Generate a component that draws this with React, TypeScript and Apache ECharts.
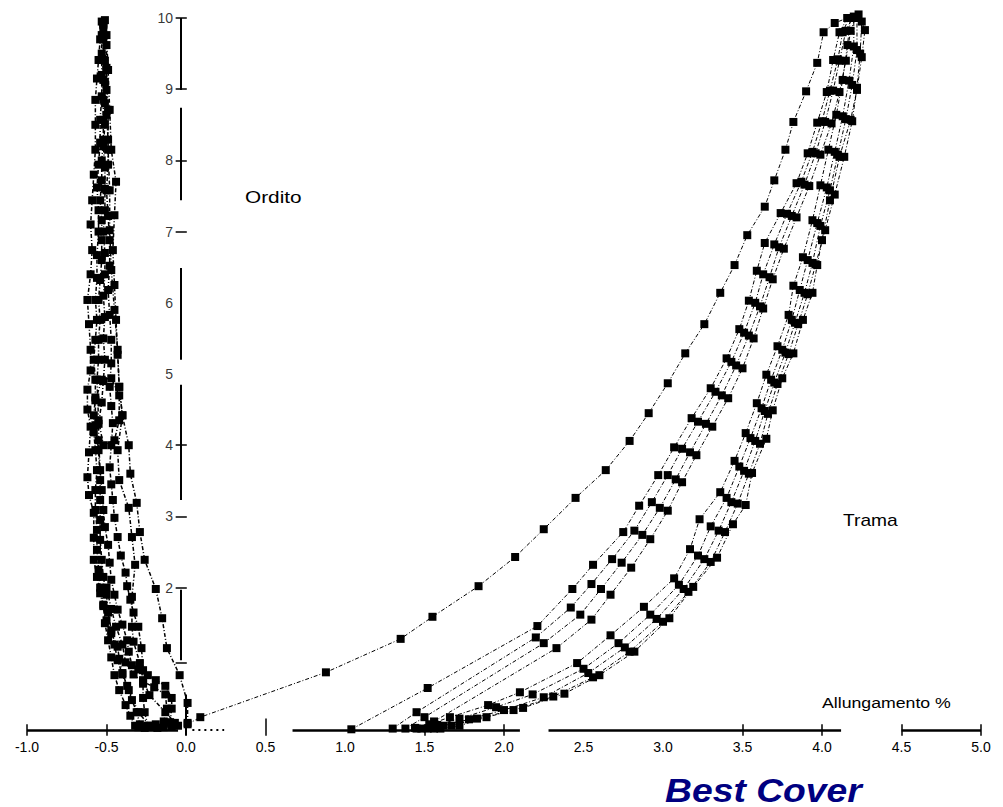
import React, { useEffect, useRef } from "react";
import * as echarts from "echarts";

type P = [number, number];

// ---- Trama (weft) curves: [elongation %, load] ----
const tramaLoad1: P[] = [[0.01,0.08],[0.09,0.18],[0.88,0.81],[1.35,1.28],[1.55,1.59],[1.84,2.02],[2.07,2.43],[2.25,2.82],[2.45,3.26],[2.64,3.65],[2.79,4.06],[2.91,4.45],[3.03,4.87],[3.14,5.29],[3.26,5.70],[3.36,6.14],[3.45,6.53],[3.53,6.95],[3.64,7.35],[3.70,7.72],[3.77,8.15],[3.82,8.54],[3.90,8.97],[3.97,9.37],[4.01,9.80],[4.08,9.93],[4.16,10.0]];
const tramaReload1: P[] = [[1.04,0.01],[1.52,0.59],[2.21,1.46],[2.43,1.98],[2.56,2.32],[2.75,2.78],[2.85,3.15],[2.97,3.58],[3.07,3.97],[3.18,4.38],[3.30,4.80],[3.40,5.22],[3.48,5.63],[3.54,6.03],[3.59,6.45],[3.64,6.84],[3.74,7.26],[3.84,7.68],[3.91,8.10],[3.97,8.53],[4.03,8.96],[4.07,9.41],[4.11,9.80],[4.16,10.0]];
const tramaReload2: P[] = [[1.30,0.02],[1.45,0.25],[2.20,1.30],[2.42,1.72],[2.55,2.05],[2.68,2.40],[2.82,2.80],[2.93,3.20],[3.03,3.58],[3.12,3.95],[3.22,4.33],[3.33,4.75],[3.43,5.17],[3.51,5.58],[3.58,6.00],[3.63,6.40],[3.70,6.82],[3.78,7.25],[3.87,7.70],[3.94,8.12],[4.00,8.55],[4.05,8.98],[4.10,9.42],[4.13,9.80],[4.17,10.0]];
const tramaReload3: P[] = [[1.38,0.02],[1.50,0.18],[2.25,1.22],[2.48,1.62],[2.61,1.98],[2.74,2.35],[2.87,2.74],[2.98,3.12],[3.08,3.52],[3.17,3.90],[3.27,4.30],[3.37,4.70],[3.46,5.12],[3.54,5.54],[3.61,5.95],[3.67,6.36],[3.73,6.78],[3.81,7.22],[3.89,7.66],[3.96,8.10],[4.02,8.54],[4.07,8.98],[4.11,9.40],[4.15,9.82],[4.19,10.0]];
const tramaReload4: P[] = [[1.45,0.02],[1.56,0.12],[2.33,1.15],[2.55,1.55],[2.67,1.90],[2.80,2.28],[2.92,2.68],[3.03,3.08],[3.12,3.48],[3.21,3.86],[3.31,4.26],[3.41,4.66],[3.50,5.08],[3.57,5.50],[3.63,5.92],[3.69,6.33],[3.76,6.76],[3.84,7.20],[3.92,7.64],[3.99,8.08],[4.06,8.52],[4.11,8.96],[4.15,9.40],[4.18,9.82],[4.21,10.0]];
const tramaUnload1: P[] = [[1.44,0.03],[1.53,0.08],[1.66,0.18],[1.90,0.35],[2.10,0.53],[2.46,0.94],[2.67,1.33],[2.88,1.73],[3.07,2.13],[3.17,2.54],[3.23,2.96],[3.36,3.34],[3.45,3.78],[3.52,4.17],[3.59,4.59],[3.65,4.99],[3.72,5.39],[3.79,5.83],[3.82,6.24],[3.88,6.64],[3.94,7.16],[3.99,7.65],[4.04,8.15],[4.09,8.64],[4.13,9.13],[4.16,9.62],[4.18,10.0]];
const tramaUnload2: P[] = [[1.48,0.02],[1.58,0.07],[1.72,0.16],[1.95,0.32],[2.18,0.50],[2.50,0.86],[2.72,1.22],[2.92,1.62],[3.10,2.04],[3.22,2.45],[3.30,2.86],[3.40,3.26],[3.48,3.70],[3.55,4.10],[3.62,4.52],[3.68,4.92],[3.75,5.34],[3.81,5.76],[3.86,6.18],[3.91,6.60],[3.97,7.12],[4.03,7.62],[4.08,8.12],[4.13,8.62],[4.17,9.12],[4.20,9.60],[4.20,10.02]];
const tramaUnload3: P[] = [[1.52,0.02],[1.62,0.06],[1.78,0.15],[2.00,0.28],[2.25,0.46],[2.53,0.80],[2.76,1.16],[2.96,1.56],[3.13,1.98],[3.26,2.40],[3.35,2.80],[3.43,3.20],[3.51,3.64],[3.58,4.06],[3.64,4.48],[3.70,4.88],[3.77,5.30],[3.83,5.72],[3.89,6.14],[3.94,6.56],[3.99,7.08],[4.05,7.58],[4.10,8.08],[4.15,8.58],[4.19,9.06],[4.22,9.55],[4.22,10.0]];
const tramaUnload4: P[] = [[1.56,0.02],[1.67,0.06],[1.83,0.16],[2.06,0.28],[2.31,0.47],[2.56,0.74],[2.79,1.10],[3.00,1.52],[3.16,1.94],[3.30,2.36],[3.39,2.78],[3.47,3.18],[3.54,3.60],[3.61,4.02],[3.66,4.44],[3.72,4.86],[3.79,5.28],[3.85,5.70],[3.91,6.12],[3.96,6.54],[4.02,7.02],[4.08,7.52],[4.14,8.05],[4.19,8.55],[4.22,9.02],[4.24,9.50],[4.25,9.95]];
const tramaUnload5: P[] = [[1.60,0.02],[1.72,0.06],[1.89,0.18],[2.12,0.31],[2.38,0.51],[2.60,0.77],[2.82,1.10],[3.04,1.57],[3.19,2.01],[3.34,2.42],[3.44,2.89],[3.52,3.16],[3.56,3.61],[3.65,4.09],[3.69,4.49],[3.75,4.94],[3.82,5.29],[3.88,5.76],[3.94,6.14],[3.97,6.53],[4.00,6.88],[4.05,7.44],[4.11,8.05],[4.18,8.57],[4.22,8.99],[4.25,9.45],[4.27,9.83],[4.23,10.05]];

// ---- Ordito (warp) curves ----
const orditoLoad1: P[] = [[0.01,0.10],[0.01,0.38],[-0.04,0.77],[-0.12,1.15],[-0.15,1.57],[-0.19,1.98],[-0.26,2.39],[-0.29,2.78],[-0.31,3.19],[-0.35,3.60],[-0.36,4.00],[-0.40,4.42],[-0.42,4.82],[-0.43,5.27],[-0.44,5.76],[-0.45,6.25],[-0.46,6.74],[-0.45,7.23],[-0.44,7.70],[-0.47,8.15],[-0.48,8.71],[-0.49,9.27],[-0.50,9.76],[-0.52,9.94]];
const orditoLoad2: P[] = [[-0.05,0.06],[-0.13,0.25],[-0.23,0.49],[-0.27,0.70],[-0.29,0.94],[-0.33,1.24],[-0.34,1.45],[-0.34,1.87],[-0.32,2.32],[-0.34,2.71],[-0.36,3.12],[-0.42,3.51],[-0.43,3.93],[-0.40,4.42],[-0.42,4.82],[-0.43,5.34],[-0.45,5.90],[-0.47,6.46],[-0.48,7.02],[-0.48,7.58],[-0.49,8.15],[-0.49,8.71],[-0.50,9.27],[-0.52,9.83]];
const orditoLeft: P[] = [[-0.29,0.08],[-0.31,0.25],[-0.34,0.42],[-0.37,0.62],[-0.40,0.80],[-0.42,1.00],[-0.43,1.17],[-0.47,1.36],[-0.50,1.54],[-0.52,1.74],[-0.54,1.92],[-0.56,2.15],[-0.58,2.39],[-0.58,2.70],[-0.58,3.05],[-0.61,3.30],[-0.62,3.55],[-0.61,3.90],[-0.60,4.26],[-0.62,4.50],[-0.62,4.78],[-0.60,5.05],[-0.60,5.34],[-0.61,5.70],[-0.62,6.04],[-0.60,6.40],[-0.59,6.74],[-0.60,7.10],[-0.59,7.44],[-0.58,7.80],[-0.57,8.15],[-0.57,8.50],[-0.57,8.85],[-0.56,9.15],[-0.55,9.41],[-0.54,9.70],[-0.53,9.95]];
const orditoRight: P[] = [[-0.24,0.06],[-0.26,0.25],[-0.27,0.45],[-0.27,0.65],[-0.27,0.84],[-0.28,1.15],[-0.30,1.45],[-0.33,1.65],[-0.35,1.83],[-0.37,2.02],[-0.38,2.21],[-0.41,2.45],[-0.43,2.71],[-0.45,2.98],[-0.46,3.23],[-0.47,3.45],[-0.48,3.69],[-0.47,4.00],[-0.46,4.31],[-0.47,4.55],[-0.48,4.82],[-0.47,5.15],[-0.47,5.48],[-0.48,5.83],[-0.49,6.18],[-0.48,6.52],[-0.48,6.88],[-0.49,7.22],[-0.50,7.58],[-0.49,7.94],[-0.49,8.29],[-0.50,8.64],[-0.50,8.99],[-0.50,9.30],[-0.50,9.62],[-0.51,9.97]];
const orditoMid: P[] = [[-0.32,0.06],[-0.35,0.20],[-0.38,0.35],[-0.42,0.56],[-0.45,0.77],[-0.47,1.02],[-0.49,1.26],[-0.51,1.50],[-0.52,1.76],[-0.54,2.00],[-0.55,2.25],[-0.56,2.53],[-0.56,2.81],[-0.57,3.09],[-0.57,3.37],[-0.56,3.65],[-0.57,3.93],[-0.58,4.18],[-0.58,4.42],[-0.57,4.67],[-0.57,4.92],[-0.58,5.20],[-0.57,5.48],[-0.56,5.76],[-0.57,6.04],[-0.56,6.35],[-0.56,6.67],[-0.55,7.00],[-0.55,7.30],[-0.56,7.62],[-0.55,7.94],[-0.54,8.25],[-0.54,8.57],[-0.53,8.90],[-0.53,9.20],[-0.53,9.50],[-0.53,9.76]];
const orditoHook: P[] = [[-0.10,0.11],[-0.09,0.30],[-0.09,0.45],[-0.13,0.62],[-0.19,0.70],[-0.24,0.77],[-0.30,0.85],[-0.34,0.91],[-0.36,1.10],[-0.37,1.26],[-0.40,1.48],[-0.43,1.69],[-0.45,1.90],[-0.47,2.11],[-0.48,2.35],[-0.49,2.60],[-0.51,2.85],[-0.52,3.09],[-0.53,3.37],[-0.54,3.65],[-0.55,4.07],[-0.55,4.30],[-0.53,4.60],[-0.52,4.90],[-0.51,5.20],[-0.52,5.50],[-0.51,5.80],[-0.52,6.10],[-0.51,6.40],[-0.51,6.70],[-0.52,7.00],[-0.51,7.30],[-0.51,7.60],[-0.51,7.90],[-0.52,8.20],[-0.51,8.50],[-0.51,8.80],[-0.51,9.10],[-0.51,9.40],[-0.52,9.70],[-0.52,9.92]];
const orditoHook2: P[] = [[-0.25,0.05],[-0.19,0.08],[-0.14,0.12],[-0.12,0.30],[-0.13,0.50],[-0.20,0.60],[-0.27,0.68],[-0.33,0.78],[-0.38,0.95],[-0.40,1.20],[-0.44,1.45],[-0.47,1.70],[-0.50,2.00]];
const orditoLoop: P[] = [[-0.23,0.06],[-0.30,0.25],[-0.36,0.56],[-0.40,0.78],[-0.43,0.98],[-0.45,1.20],[-0.47,1.40],[-0.49,1.65],[-0.50,1.90],[-0.52,2.15],[-0.53,2.39],[-0.54,2.67],[-0.54,2.95],[-0.54,3.23],[-0.54,3.51],[-0.55,3.93],[-0.57,4.28],[-0.57,4.63],[-0.53,4.92],[-0.47,4.94],[-0.42,4.70],[-0.42,4.35],[-0.45,4.07],[-0.52,4.00],[-0.55,4.35],[-0.56,4.92],[-0.55,5.20],[-0.55,5.48],[-0.54,5.76],[-0.55,6.04],[-0.54,6.32],[-0.53,6.60],[-0.53,6.88],[-0.53,7.16],[-0.54,7.44],[-0.53,7.72],[-0.53,8.00],[-0.52,8.29],[-0.52,8.57],[-0.52,8.85],[-0.52,9.13],[-0.52,9.41],[-0.52,9.90]];
const orditoBase: P[] = [[-0.30,0.04],[-0.26,0.03],[-0.22,0.04],[-0.18,0.03],[-0.14,0.04],[-0.09,0.05],[-0.07,0.10]];

const orditoCurves: P[][] = [orditoLoad1, orditoLoad2, orditoLeft, orditoRight, orditoMid, orditoHook, orditoHook2, orditoLoop, orditoBase];
const tramaCurves: P[][] = [tramaLoad1, tramaReload1, tramaReload2, tramaReload3, tramaReload4, tramaUnload1, tramaUnload2, tramaUnload3, tramaUnload4, tramaUnload5];

// ---- tick labels ----
const yTickLabels: number[] = [2, 3, 4, 5, 6, 7, 8, 9, 10];

// ---- broken axis pieces (drawn in data coordinates) ----
const xAxisPieces: P[][] = [[[-1.0, 0], [-0.05, 0]], [[0.67, 0], [2.1, 0]], [[2.28, 0], [4.12, 0]], [[4.5, 0], [5.0, 0]]];
const xAxisDotted: P[][] = [[[0.04, 0], [0.24, 0]]];
const xTickAt: number[] = [-1.0, -0.5, 0.5, 1.5, 2.0, 3.5, 4.0, 4.5, 5.0];
const yAxisPieces: P[][] = [[[-0.03, 10.0], [-0.03, 8.99]], [[-0.03, 8.74], [-0.03, 7.44]], [[-0.03, 6.49], [-0.03, 5.2]], [[-0.03, 4.85], [-0.03, 3.23]], [[-0.03, 1.97], [-0.03, 0.98]], [[0.0, 0.5], [0.0, -0.08]]];
const yTickAt: number[] = [10, 9, 8, 7, 4, 3, 2, 0.94];

export default function App() {
  const ref = useRef<HTMLDivElement>(null);
  useEffect(() => {
    const chart = echarts.init(ref.current!, undefined, { renderer: "svg" });
    const dash = [4, 2, 1, 2];
    const font = "Liberation Sans, Arial, sans-serif";
    const curve = (data: P[], size: number, width: number) => ({
      type: "line",
      data,
      symbol: "rect",
      symbolSize: size,
      showAllSymbol: true,
      clip: false,
      silent: true,
      itemStyle: { color: "#000" },
      lineStyle: { color: "#000", width, type: dash },
      z: 3,
    });
    const segs: any[] = [];
    xAxisPieces.forEach((c) => segs.push({ coords: c }));
    xTickAt.forEach((v) => segs.push({ coords: [[v, -0.08], [v, v === 0.5 ? 0.16 : 0.08]], lineStyle: { width: 1.5 } }));
    yAxisPieces.forEach((c) => segs.push({ coords: c, lineStyle: { width: 2 } }));
    yTickAt.forEach((v) => segs.push({ coords: [[-0.065, v], [0.005, v]], lineStyle: { width: 1.5 } }));

    const txt = (text: string, x: number, y: number, size: number, scaleX: number) => ({
      type: "text",
      x,
      y,
      scaleX,
      style: { text, fill: "#000", fontSize: size, fontFamily: font, textVerticalAlign: "middle" },
      silent: true,
    });

    chart.setOption({
      animation: false,
      backgroundColor: "#fff",
      grid: { left: 27, right: 22, top: 18, bottom: 77, containLabel: false },
      xAxis: {
        type: "value",
        min: -1,
        max: 5,
        interval: 0.5,
        axisLine: { show: false, onZero: false },
        axisTick: { show: false },
        splitLine: { show: false },
        axisLabel: {
          formatter: (v: number) => v.toFixed(1),
          color: "#000",
          fontSize: 14,
          margin: 10,
          fontFamily: font,
        },
      },
      yAxis: {
        type: "value",
        min: 0,
        max: 10,
        interval: 1,
        axisLine: { show: false },
        axisTick: { show: false },
        splitLine: { show: false },
        axisLabel: { show: false },
      },
      series: [
        {
          type: "lines",
          coordinateSystem: "cartesian2d",
          polyline: false,
          clip: false,
          silent: true,
          lineStyle: { color: "#000", width: 2.5, opacity: 1 },
          data: segs,
          z: 2,
        },
        {
          type: "lines",
          coordinateSystem: "cartesian2d",
          polyline: false,
          clip: false,
          silent: true,
          lineStyle: { color: "#000", width: 2, type: [2, 4], opacity: 1 },
          data: xAxisDotted.map((c) => ({ coords: c })),
          z: 2,
        },
        {
          type: "scatter",
          data: yTickLabels.map((v) => [0, v]),
          symbolSize: 0,
          silent: true,
          clip: false,
          label: {
            show: true,
            position: "left",
            distance: 13,
            color: "#000",
            fontSize: 14,
            fontFamily: font,
            formatter: (p: any) => String(p.value[1]),
          },
          z: 4,
        },
        ...orditoCurves.map((d) => curve(d, 8, 1.5)),
        ...tramaCurves.map((d) => curve(d, 8, 1)),
      ],
      graphic: [
        txt("Ordito", 245, 197, 16, 1.3),
        txt("Trama", 843, 521, 16, 1.2),
        txt("Allungamento %", 822, 703, 15, 1.18),
        {
          type: "text",
          x: 665,
          y: 790,
          scaleX: 1.13,
          silent: true,
          style: {
            text: "Best Cover",
            fill: "#000080",
            fontSize: 33,
            fontStyle: "italic",
            fontWeight: "bold",
            fontFamily: font,
            textVerticalAlign: "middle",
          },
        },
      ],
    });
    return () => chart.dispose();
  }, []);
  return (
    <div
      ref={ref}
      style={{ position: "fixed", left: 0, top: 0, width: 1003, height: 807, background: "#fff" }}
    />
  );
}
